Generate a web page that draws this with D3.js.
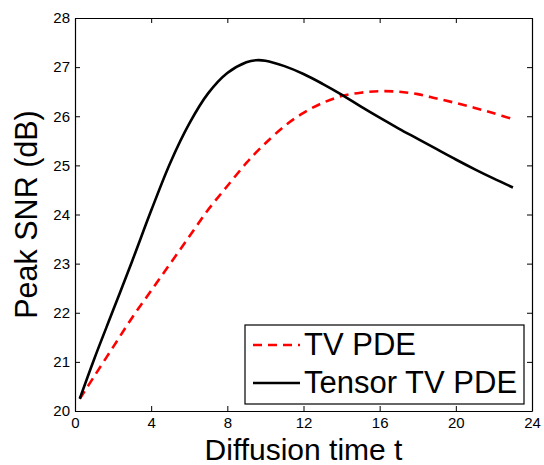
<!DOCTYPE html>
<html>
<head>
<meta charset="utf-8">
<script src="https://cdn.jsdelivr.net/npm/d3@7"></script>
<style>
  body { margin: 0; background: #fff; }
  text { font-family: "Liberation Sans", Arial, sans-serif; fill: #000; }
</style>
</head>
<body>
<div id="chart"></div>
<script>
// diffusion time samples
const tiempos = [0.25, 1, 2, 3, 4, 5, 6, 7, 8, 9, 9.5, 10, 11, 12, 13, 14, 15, 16, 17, 18, 19, 20, 21, 22, 23];
// Peak SNR (dB) for each method
const snrTV = [20.25, 20.7, 21.3, 21.9, 22.45, 23.0, 23.55, 24.1, 24.58, 25.05, 25.26, 25.45, 25.8, 26.07, 26.27, 26.41, 26.48, 26.51, 26.5, 26.45, 26.36, 26.27, 26.17, 26.06, 25.94];
const snrTensor = [20.25, 21.05, 22.05, 23.05, 24.08, 25.05, 25.85, 26.47, 26.88, 27.1, 27.14, 27.13, 27.02, 26.86, 26.66, 26.44, 26.2, 25.97, 25.75, 25.54, 25.33, 25.12, 24.92, 24.73, 24.55];
const xTicks = [0, 4, 8, 12, 16, 20, 24];
const yTicks = [20, 21, 22, 23, 24, 25, 26, 27, 28];

const series = [
  { nombre: "TV PDE", valores: snrTV, color: "#ff0000", dash: "9,6" },
  { nombre: "Tensor TV PDE", valores: snrTensor, color: "#000", dash: null }
];

const width = 544, height = 465;
const margin = { left: 75, right: 12, top: 18, bottom: 54 };
const plotW = width - margin.left - margin.right;
const plotH = height - margin.top - margin.bottom;

const svg = d3.select("#chart").append("svg")
  .attr("width", width)
  .attr("height", height);

const g = svg.append("g")
  .attr("transform", "translate(" + margin.left + "," + margin.top + ")");

const x = d3.scaleLinear().domain([0, 24]).range([0, plotW]);
const y = d3.scaleLinear().domain([20, 28]).range([plotH, 0]);

// axes with inward ticks on all sides
const styleAxis = sel => {
  sel.select(".domain").attr("stroke", "#000").attr("stroke-width", 1.2);
  sel.selectAll(".tick line").attr("stroke", "#000");
  sel.selectAll(".tick text").style("font-size", "15px").attr("fill", "#000");
};

g.append("g")
  .attr("transform", "translate(0," + plotH + ")")
  .call(d3.axisBottom(x).tickValues(xTicks).tickSizeInner(-5).tickSizeOuter(0).tickPadding(6))
  .call(styleAxis);

g.append("g")
  .call(d3.axisTop(x).tickValues(xTicks).tickSizeInner(-5).tickSizeOuter(0).tickFormat(""))
  .call(styleAxis);

g.append("g")
  .call(d3.axisLeft(y).tickValues(yTicks).tickSizeInner(-5).tickSizeOuter(0).tickPadding(5))
  .call(styleAxis);

g.append("g")
  .attr("transform", "translate(" + plotW + ",0)")
  .call(d3.axisRight(y).tickValues(yTicks).tickSizeInner(-5).tickSizeOuter(0).tickFormat(""))
  .call(styleAxis);

// curves
const line = d3.line()
  .x((d, i) => x(tiempos[i]))
  .y(d => y(d))
  .curve(d3.curveCatmullRom.alpha(0.5));

series.forEach(s => {
  g.append("path")
    .datum(s.valores)
    .attr("fill", "none")
    .attr("stroke", s.color)
    .attr("stroke-width", 2.6)
    .attr("stroke-dasharray", s.dash)
    .attr("d", line);
});

// legend
const legend = svg.append("g").attr("transform", "translate(245,325)");
legend.append("rect")
  .attr("width", 279).attr("height", 79)
  .attr("fill", "#fff").attr("stroke", "#000").attr("stroke-width", 1.2);

series.forEach((s, i) => {
  const cy = 20 + i * 38;
  legend.append("line")
    .attr("x1", 8).attr("x2", 55)
    .attr("y1", cy).attr("y2", cy)
    .attr("stroke", s.color)
    .attr("stroke-width", 2.6)
    .attr("stroke-dasharray", s.dash);
  legend.append("text")
    .attr("x", 59).attr("y", cy + 10)
    .style("font-size", "31px")
    .text(s.nombre);
});

// axis labels
svg.append("text")
  .attr("x", margin.left + plotW / 2)
  .attr("y", 460)
  .attr("text-anchor", "middle")
  .style("font-size", "30px")
  .text("Diffusion time t");

svg.append("text")
  .attr("transform", "translate(37," + (margin.top + plotH / 2) + ") rotate(-90)")
  .attr("text-anchor", "middle")
  .style("font-size", "30.5px")
  .text("Peak SNR (dB)");
</script>
</body>
</html>
